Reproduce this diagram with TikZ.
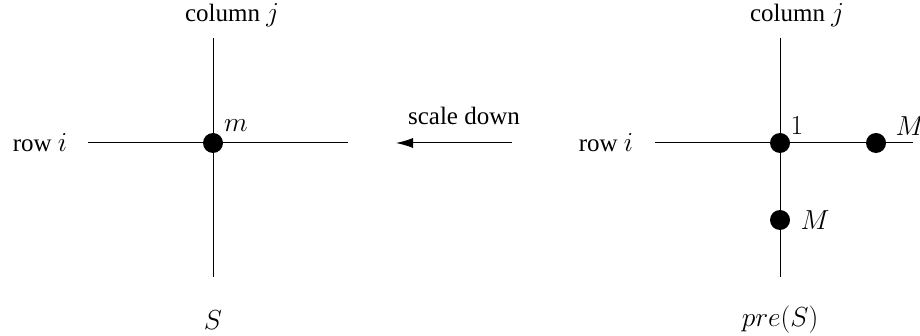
\RequirePackage{fix-cm}
\documentclass[tikz,border=0pt]{standalone}
\usepackage{fontspec}
\setmainfont{Liberation Serif}
\usetikzlibrary{arrows.meta}
% math set a little larger than the surrounding text
\DeclareMathSizes{25}{27.5}{19}{14}
\begin{document}
\begin{tikzpicture}[x=1pt,y=-1pt,
  every node/.style={font=\fontsize{25}{30}\selectfont, inner sep=0pt},
  axis/.style={line width=1pt},
  dot/.style={circle,fill=black,inner sep=0pt,minimum size=20pt},
  arr/.style={line width=1pt,-{Latex[length=17pt,width=10pt]}}]
\useasboundingbox (0,0) rectangle (920,336);

% matrix S: row i and column j crossing at entry m
\coordinate (Lt) at (213,38);
\coordinate (Lb) at (213,277);
\coordinate (Ll) at (88,143);
\coordinate (Lr) at (348,143);
\draw[axis] (Ll) -- (Lr);
\draw[axis] (Lt) -- (Lb);
\node[dot] (m) at (213,143) {};
\node (mlab) at (236,126) {$m$};
\node (colL) at (232,15) {column $j$};
\node (rowL) at (40,143) {row $i$};
\node (S) at (213,320) {$S$};

% scaling arrow
\coordinate (arS) at (512,143);
\coordinate (arE) at (396,143);
\draw[arr] (arS) -- (arE);
\node (sd) at (464,116) {scale down};

% matrix pre(S): pivot 1 with entries M in its row and column
\coordinate (Rt) at (780,38);
\coordinate (Rb) at (780,277);
\coordinate (Rl) at (655,143);
\coordinate (Rr) at (913,143);
\draw[axis] (Rl) -- (Rr);
\draw[axis] (Rt) -- (Rb);
\node[dot] (one) at (780,143) {};
\node[dot] (Mr) at (876,143) {};
\node[dot] (Md) at (780,220) {};
\node (onelab) at (797,126) {$1$};
\node (Mrlab) at (910,126) {$M$};
\node (Mdlab) at (815,220) {$M$};
\node (colR) at (797,15) {column $j$};
\node (rowR) at (606,143) {row $i$};
\node (preS) at (780,320) {$pre(S)$};
\end{tikzpicture}
\end{document}
